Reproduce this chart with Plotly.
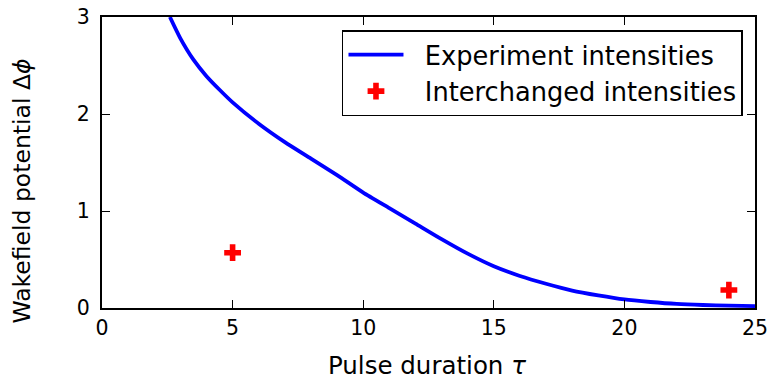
import plotly.graph_objects as go

# Experiment intensities curve
tau = [2.6, 3.0, 3.5, 4.0, 4.5, 5.0, 6.0, 7.0, 8.0, 9.0, 10.0, 11.0, 12.0, 13.0,
       14.0, 15.0, 16.0, 17.0, 18.0, 19.0, 20.0, 21.0, 22.0, 23.0, 24.0, 25.0]
phi = [3.0, 2.78, 2.56, 2.39, 2.25, 2.12, 1.90, 1.71, 1.54, 1.37, 1.19, 1.03, 0.87, 0.71,
       0.56, 0.43, 0.33, 0.25, 0.18, 0.13, 0.088, 0.062, 0.042, 0.031, 0.024, 0.02]

# Interchanged intensities points
tau_swap = [5.0, 24.0]
phi_swap = [0.57, 0.185]

x_ticks = [0, 5, 10, 15, 20, 25]
y_ticks = [0, 1, 2, 3]

font = "DejaVu Sans"
gap = "\u00a0\u00a0"  # space between legend symbol and label

fig = go.Figure()

fig.add_trace(go.Scatter(
    x=tau, y=phi, mode="lines", name=gap + "Experiment intensities",
    line=dict(color="#0000ff", width=3.8, shape="spline", smoothing=0.6),
))

fig.add_trace(go.Scatter(
    x=tau_swap, y=phi_swap, mode="markers", name=gap + "Interchanged intensities",
    marker=dict(symbol="cross", size=14, color="#ff0000", line=dict(width=0)),
))

axis_style = dict(
    showline=True, linecolor="black", linewidth=2, mirror="ticks",
    ticks="inside", ticklen=8, tickwidth=1.2, tickcolor="black",
    showgrid=False, zeroline=False, automargin=False,
    ticklabeloverflow="allow",
    tickfont=dict(family=font, size=20.5, color="black"),
)

fig.update_xaxes(range=[0, 25], tickvals=x_ticks, ticklabelstandoff=0, **axis_style)
fig.update_yaxes(range=[0, 3], tickvals=y_ticks, ticklabelstandoff=6, **axis_style)

fig.add_annotation(text="Pulse duration <i>τ</i>", xref="paper", yref="paper",
                   x=0.497, y=-0.196, xanchor="center", yanchor="middle",
                   showarrow=False, font=dict(family=font, size=24.5, color="black"))
fig.add_annotation(text="Wakefield potential Δ<i>ϕ</i>", xref="paper", yref="paper",
                   x=-0.1225, y=0.40, xanchor="center", yanchor="middle",
                   textangle=-90, showarrow=False, font=dict(family=font, size=23.5, color="black"))

fig.update_layout(
    width=768, height=383,
    margin=dict(l=102, r=13, t=17, b=75),
    paper_bgcolor="white", plot_bgcolor="white",
    showlegend=True,
    legend=dict(
        x=0.9816, y=0.9553, xanchor="right", yanchor="top",
        bordercolor="black", borderwidth=1.5, bgcolor="white",
        font=dict(family=font, size=25.7, color="black"),
        itemwidth=55, tracegroupgap=0,
    ),
)

# drop the page's default body margin so the figure sits at the window's corner
fig.write_html("out.html", config={"displayModeBar": False},
               post_script="document.body.style.margin='0';")
